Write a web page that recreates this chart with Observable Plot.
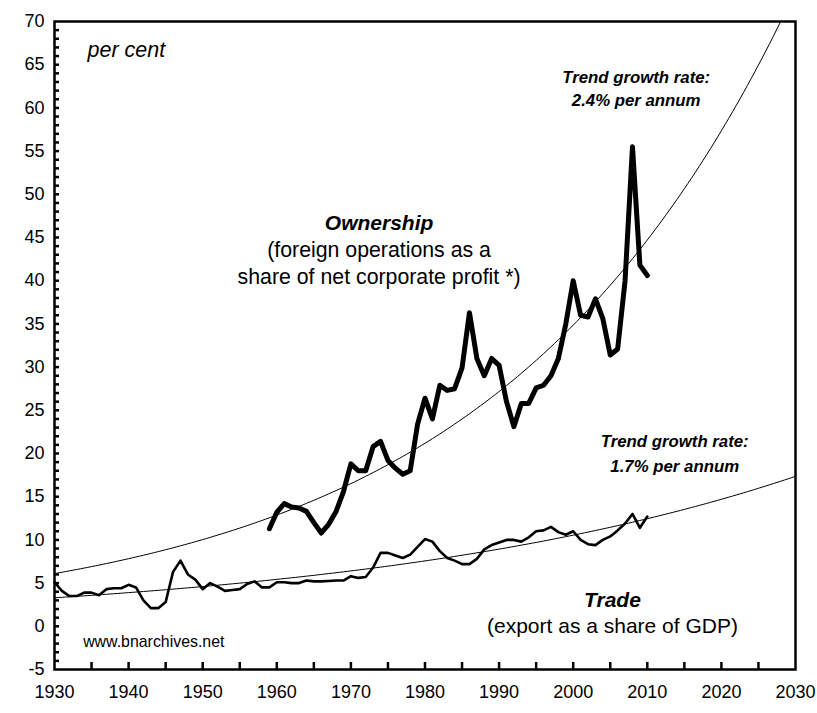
<!DOCTYPE html>
<html>
<head>
<meta charset="utf-8">
<script src="https://cdn.jsdelivr.net/npm/d3@7"></script>
<script src="https://cdn.jsdelivr.net/npm/@observablehq/plot@0.6"></script>
<style>
  html, body { margin: 0; padding: 0; background: #fff; }
  #chart svg { display: block; font-family: "Liberation Sans", Arial, sans-serif; }
</style>
</head>
<body>
<div id="chart"></div>
<script>
// ---- Data ----
const ownershipYears = d3.range(1959, 2011);
const ownershipValues = [
  11.3, 13.2, 14.2, 13.8, 13.7, 13.3, 12.0, 10.8, 11.8, 13.3,
  15.6, 18.8, 18.0, 18.0, 20.8, 21.4, 19.2, 18.3, 17.6, 18.0,
  23.4, 26.4, 24.0, 27.9, 27.3, 27.5, 29.9, 36.3, 31.0, 29.0,
  31.0, 30.2, 26.0, 23.1, 25.8, 25.8, 27.6, 27.9, 29.0, 31.0,
  35.0, 40.0, 36.0, 35.8, 37.9, 35.6, 31.4, 32.1, 40.0, 55.5,
  41.8, 40.6
];
const tradeYears = d3.range(1930, 2011);
const tradeValues = [
  5.1, 4.1, 3.5, 3.5, 3.9, 3.9, 3.6, 4.3, 4.4, 4.4,
  4.8, 4.5, 3.0, 2.1, 2.1, 2.8, 6.3, 7.6, 6.0, 5.4,
  4.3, 5.0, 4.6, 4.1, 4.2, 4.3, 4.9, 5.2, 4.5, 4.5,
  5.1, 5.1, 5.0, 5.0, 5.3, 5.2, 5.2, 5.25, 5.3, 5.3,
  5.8, 5.6, 5.7, 6.8, 8.5, 8.5, 8.2, 7.9, 8.3, 9.2,
  10.1, 9.8, 8.7, 7.9, 7.6, 7.2, 7.2, 7.8, 8.9, 9.4,
  9.7, 10.0, 10.0, 9.8, 10.3, 11.0, 11.1, 11.5, 10.9, 10.6,
  11.0, 10.0, 9.5, 9.4, 10.0, 10.4, 11.1, 11.9, 13.0, 11.4,
  12.7
];
// Exponential trend parameters (value in 1930, continuous annual growth)
const trendNames = ["ownership", "trade"];
const trendBase1930 = [6.1, 3.3];
const trendRates = [0.0249, 0.0166];
const trendYears = d3.range(1930, 2030.01, 0.5);

const xTicksMajor = d3.range(1930, 2031, 10);
const xTicksMinor = d3.range(1935, 2030, 5);
const yTicksMajor = d3.range(-5, 71, 5);
const yTicksMinor = d3.range(-4, 70, 1);

// ---- Tables ----
const ownership = ownershipYears.map((year, i) => ({year, value: ownershipValues[i]}));
const trade = tradeYears.map((year, i) => ({year, value: tradeValues[i]}));
const trends = trendNames.flatMap((name, k) =>
  trendYears.map(year => ({name, year, value: trendBase1930[k] * Math.exp(trendRates[k] * (year - 1930))}))
    .filter(d => d.value <= 70.5)
);

// annotations (data units)
const notes = [
  {x: 1934.45, y: 66.7, text: "per cent", size: 21.5, weight: "normal", style: "italic", anchor: "start"},
  {x: 2008.5, y: 63.5, text: "Trend growth rate:", size: 16.8, weight: "bold", style: "italic", anchor: "middle"},
  {x: 2008.5, y: 60.9, text: "2.4% per annum", size: 16.8, weight: "bold", style: "italic", anchor: "middle"},
  {x: 1973.8, y: 46.6, text: "Ownership", size: 21, weight: "bold", style: "italic", anchor: "middle"},
  {x: 1973.8, y: 43.5, text: "(foreign operations as a", size: 21.3, weight: "normal", style: "normal", anchor: "middle"},
  {x: 1973.8, y: 40.45, text: "share of net corporate profit *)", size: 21.3, weight: "normal", style: "normal", anchor: "middle"},
  {x: 2013.7, y: 21.4, text: "Trend growth rate:", size: 16.8, weight: "bold", style: "italic", anchor: "middle"},
  {x: 2013.7, y: 18.5, text: "1.7% per annum", size: 16.8, weight: "bold", style: "italic", anchor: "middle"},
  {x: 2005.3, y: 3.05, text: "Trade", size: 21, weight: "bold", style: "italic", anchor: "middle"},
  {x: 2005.3, y: 0.0, text: "(export as a share of GDP)", size: 21, weight: "normal", style: "normal", anchor: "middle"},
  {x: 1943.4, y: -1.85, text: "www.bnarchives.net", size: 15.9, weight: "normal", style: "normal", anchor: "middle"}
];

const noteMarks = notes.map(n => Plot.text([n], {
  x: "x", y: "y", text: "text", fontSize: n.size, fontWeight: n.weight, fontStyle: n.style,
  textAnchor: n.anchor, fill: "black"
}));

const W = 817, H = 713, mL = 54, mR = 22, mT = 21, mB = 44;
const innerW = W - mL - mR, innerH = H - mT - mB;

const chart = Plot.plot({
  width: W,
  height: H,
  marginLeft: mL,
  marginRight: mR,
  marginTop: mT,
  marginBottom: mB,
  style: {fontFamily: "'Liberation Sans', Arial, sans-serif", background: "white", color: "black"},
  x: {domain: [1930, 2030]},
  y: {domain: [-5, 70]},
  marks: [
    Plot.line(trends, {x: "year", y: "value", z: "name", stroke: "black", strokeWidth: 1, clip: true}),
    Plot.line(trade, {x: "year", y: "value", stroke: "black", strokeWidth: 2.6, strokeLinejoin: "round"}),
    Plot.line(ownership, {x: "year", y: "value", stroke: "black", strokeWidth: 5, strokeLinejoin: "round", strokeLinecap: "round"}),
    ...noteMarks,
    // inward tick marks (rules shortened with insets)
    Plot.ruleY(yTicksMinor, {y: d => d, insetRight: innerW - 5, stroke: "black", strokeWidth: 2.5}),
    Plot.ruleX(xTicksMinor, {x: d => d, insetTop: innerH - 7, stroke: "black", strokeWidth: 2.5}),
    // labels
    Plot.axisY({ticks: yTicksMajor, tickSize: 0, tickPadding: 10, fontSize: 18, tickFormat: d => String(d)}),
    Plot.axisX({ticks: xTicksMajor, tickSize: 0, tickPadding: 16, fontSize: 18, tickFormat: d => String(d)}),
    Plot.frame({stroke: "black", strokeWidth: 2.5})
  ]
});
document.getElementById("chart").appendChild(chart);
</script>
</body>
</html>
